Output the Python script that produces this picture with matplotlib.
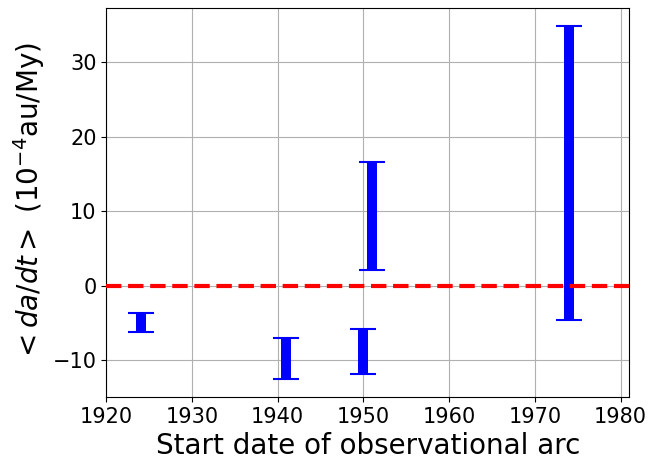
import matplotlib
matplotlib.use("Agg")
import matplotlib.pyplot as plt

years = [1924, 1941, 1950, 1951, 1974]
lower = [-6.3, -12.6, -11.9, 2.15, -4.6]
upper = [-3.65, -7.0, -5.8, 16.6, 34.9]

centers = [(a + b) / 2 for a, b in zip(lower, upper)]
errs = [(b - a) / 2 for a, b in zip(lower, upper)]

fig = plt.figure(figsize=(6.52, 4.66), dpi=100)
ax = fig.add_axes([0.163, 0.148, 0.802, 0.835])
ax.errorbar(years, centers, yerr=errs, fmt='none', ecolor='blue',
            elinewidth=7.2, capsize=9.7, capthick=1.5, zorder=3)
ax.set_xlim(1920, 1981)
ax.axhline(0, color='red', linestyle='--', linewidth=3, zorder=4)
ax.grid(True, color='#b0b0b0', linewidth=0.8)
ax.tick_params(labelsize=15)
ax.set_xlabel('Start date of observational arc', fontsize=20)
ax.set_ylabel(r'$<da/dt>$ $(10^{-4}$au/My)', fontsize=20)
fig.savefig('out.png', dpi=100)
